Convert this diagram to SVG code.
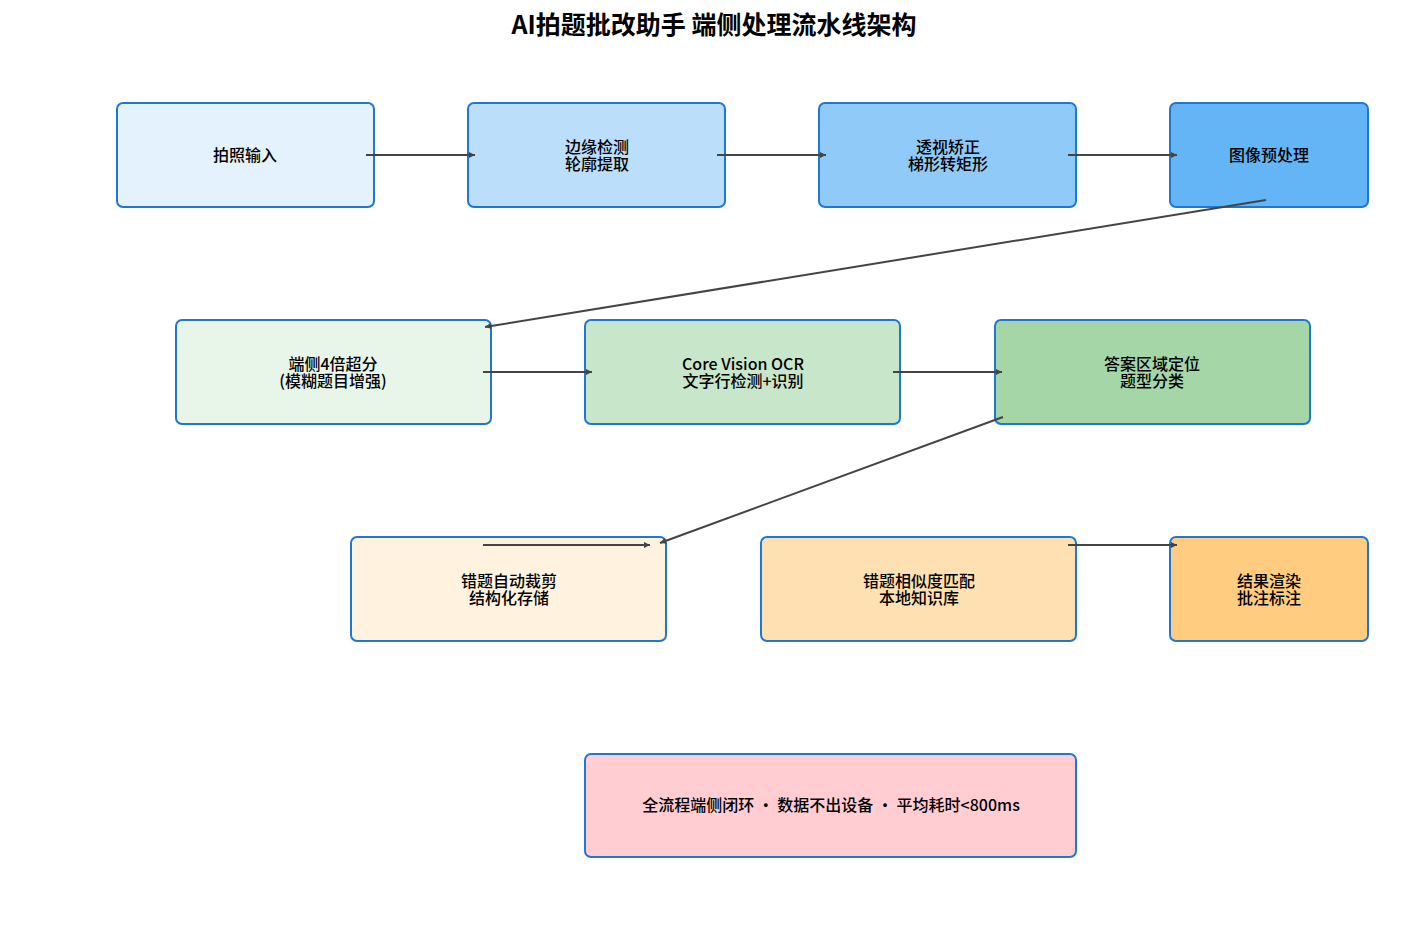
<svg xmlns="http://www.w3.org/2000/svg" width="1428" height="948" viewBox="0 0 1428 948">
<style>
.n{stroke:#1e78d2;stroke-width:2}
text{font-family:"Noto Sans CJK SC","Noto Sans",sans-serif;font-size:16px;fill:#000;text-anchor:middle;font-weight:500}
.t{font-size:25px;font-weight:bold}
.e line{stroke:#444;stroke-width:2}
</style>
<defs><marker id="a" markerWidth="3" markerHeight="3" refX="3" refY="1.5" orient="auto"><path d="M0,0L3,1.5L0,3z" fill="#444"/></marker></defs>
<rect width="1428" height="948" fill="#fff"/>
<text class="t" x="714" y="34">AI拍题批改助手 端侧处理流水线架构</text>
<g id="n1"><rect class="n" x="117" y="103" width="257" height="104" rx="6" fill="#e3f2fd"/><text x="245" y="161">拍照输入</text></g>
<g id="n2"><rect class="n" x="468" y="103" width="257" height="104" rx="6" fill="#bbdefb"/><text x="597" y="153">边缘检测</text><text x="597" y="170">轮廓提取</text></g>
<g id="n3"><rect class="n" x="819" y="103" width="257" height="104" rx="6" fill="#90caf9"/><text x="948" y="153">透视矫正</text><text x="948" y="170">梯形转矩形</text></g>
<g id="n4"><rect class="n" x="1170" y="103" width="198" height="104" rx="6" fill="#64b5f6"/><text x="1269" y="161">图像预处理</text></g>
<g id="n5"><rect class="n" x="176" y="320" width="315" height="104" rx="6" fill="#e8f5e9"/><text x="333" y="370">端侧4倍超分</text><text x="333" y="387">(模糊题目增强)</text></g>
<g id="n6"><rect class="n" x="585" y="320" width="315" height="104" rx="6" fill="#c8e6c9"/><text x="743" y="370">Core Vision OCR</text><text x="743" y="387">文字行检测+识别</text></g>
<g id="n7"><rect class="n" x="995" y="320" width="315" height="104" rx="6" fill="#a5d6a7"/><text x="1152" y="370">答案区域定位</text><text x="1152" y="387">题型分类</text></g>
<g id="n8"><rect class="n" x="351" y="537" width="315" height="104" rx="6" fill="#fff3e0"/><text x="509" y="587">错题自动裁剪</text><text x="509" y="604">结构化存储</text></g>
<g id="n9"><rect class="n" x="761" y="537" width="315" height="104" rx="6" fill="#ffe0b2"/><text x="919" y="587">错题相似度匹配</text><text x="919" y="604">本地知识库</text></g>
<g id="n10"><rect class="n" x="1170" y="537" width="198" height="104" rx="6" fill="#ffcc80"/><text x="1269" y="587">结果渲染</text><text x="1269" y="604">批注标注</text></g>
<g id="n11"><rect class="n" x="585" y="754" width="491" height="103" rx="6" fill="#ffcdd2"/><text x="831" y="811">全流程端侧闭环 · 数据不出设备 · 平均耗时&lt;800ms</text></g>
<g class="e" id="edges">
<line x1="366" y1="155" x2="475" y2="155" marker-end="url(#a)"/>
<line x1="717" y1="155" x2="826" y2="155" marker-end="url(#a)"/>
<line x1="1068" y1="155" x2="1177" y2="155" marker-end="url(#a)"/>
<line x1="1266" y1="200" x2="485" y2="327" marker-end="url(#a)"/>
<line x1="483" y1="372" x2="592" y2="372" marker-end="url(#a)"/>
<line x1="893" y1="372" x2="1002" y2="372" marker-end="url(#a)"/>
<line x1="1003" y1="417" x2="660" y2="543" marker-end="url(#a)"/>
<line x1="483" y1="545" x2="650" y2="545" marker-end="url(#a)"/>
<line x1="1068" y1="545" x2="1177" y2="545" marker-end="url(#a)"/>
</g>
</svg>
